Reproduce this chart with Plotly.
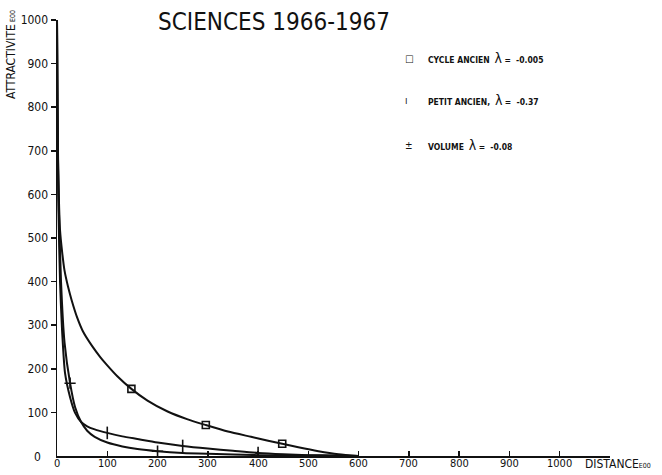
import plotly.graph_objects as go

# ---- data ----
# Curve A : "CYCLE ANCIEN" (square markers)
a_x = [0, 1, 2, 4, 6, 10, 15, 22, 29, 40, 52, 70, 86, 100, 120, 148, 180, 220, 260, 296,
       340, 386, 420, 448, 480, 520, 560, 600]
a_y = [1000, 800, 680, 580, 518, 470, 425, 388, 358, 318, 285, 252, 227, 208, 183, 154, 127, 102, 84, 71,
       56, 44, 35, 28, 20, 11, 4, 0]
a_mx = [148, 296, 448]
a_my = [154, 71, 28]

# Curve B : "PETIT ANCIEN" (tick markers)
b_x = [0, 1, 3, 6, 10, 16, 26, 36, 48, 60, 75, 100, 130, 160, 200, 250, 300, 350, 400, 450, 500, 550, 600]
b_y = [1000, 780, 560, 400, 290, 190, 135, 99, 78, 68, 61, 53, 45, 39, 31, 23, 17, 12, 7, 4, 2, 1, 0]
b_mx = [100, 250, 400]
b_my = [53, 23, 7]

# Curve C : "VOLUME" (cross markers)
c_x = [0, 1, 3, 8, 15, 26, 36, 48, 60, 75, 100, 130, 160, 200, 250, 300, 400, 500, 600]
c_y = [1000, 820, 600, 400, 260, 167, 112, 78, 58, 44, 31, 22, 16, 11, 7, 5, 2, 1, 0]
c_mx = [26, 200]
c_my = [167, 11]

x_ticks = [0, 100, 200, 300, 400, 500, 600, 700, 800, 900, 1000, 1100]
x_labels = ["0", "100", "200", "300", "400", "500", "600", "700", "800", "900", "1000", ""]
y_ticks = [100, 200, 300, 400, 500, 600, 700, 800, 900, 1000]
y_labels = ["100", "200", "300", "400", "500", "600", "700", "800", "900", "1000"]

title_text = "SCIENCES 1966-1967"
legend_names = ["CYCLE ANCIEN", "PETIT ANCIEN,", "VOLUME"]
legend_lambdas = ["-0.005", "-0.37", "-0.08"]
legend_syms = ["□", "ı", "±"]

# ---- layout geometry ----
W, H = 662, 475
L, R, T, B = 57, 52, 20, 19
PW, PH = W - L - R, H - T - B
AXY = H - B  # pixel row of the x axis

def px(x):
    return (x - L) / PW

def py(y):
    return (H - B - y) / PH

FONT = "Liberation Sans Narrow, DejaVu Sans Condensed, Arial Narrow, sans-serif"
INK = "#111111"

fig = go.Figure()
for xs, ys in [(a_x, a_y), (b_x, b_y), (c_x, c_y)]:
    fig.add_trace(go.Scatter(x=xs, y=ys, mode="lines",
                             line=dict(color=INK, width=2, shape="spline", smoothing=0.6),
                             showlegend=False, hoverinfo="skip"))

fig.add_trace(go.Scatter(x=a_mx, y=a_my, mode="markers", showlegend=False,
                         marker=dict(symbol="square-open", size=7, color=INK, line=dict(width=1.6, color=INK))))
fig.add_trace(go.Scatter(x=b_mx, y=b_my, mode="markers", showlegend=False,
                         marker=dict(symbol="line-ns", size=9, color=INK, line=dict(width=1.6, color=INK))))
fig.add_trace(go.Scatter(x=c_mx, y=c_my, mode="markers", showlegend=False,
                         marker=dict(symbol="cross-thin", size=8, color=INK, line=dict(width=1.6, color=INK))))

ann = []
# title
ann.append(dict(x=px(274), y=py(22), xref="paper", yref="paper", text=title_text,
                showarrow=False, xanchor="center", yanchor="middle",
                font=dict(family=FONT, size=24, color=INK)))
# legend
leg_y = [58, 100, 145]
for sym, name, lam, yy in zip(legend_syms, legend_names, legend_lambdas, leg_y):
    ann.append(dict(x=px(403), y=py(yy), xref="paper", yref="paper", text=sym,
                    showarrow=False, xanchor="left", yanchor="middle",
                    font=dict(family=FONT, size=10, color=INK)))
    ann.append(dict(x=px(426), y=py(yy), xref="paper", yref="paper",
                    text=f"<b>{name}</b>  <span style='font-size:14px'>λ</span> <b>=  {lam}</b>",
                    showarrow=False, xanchor="left", yanchor="middle",
                    font=dict(family=FONT, size=8.5, color=INK)))
# x tick labels (placed tight under the axis, as on the plotter output)
for xv, lab in zip(x_ticks, x_labels):
    if lab:
        ann.append(dict(x=xv, y=py(AXY + 8), xref="x", yref="paper", text=lab,
                        showarrow=False, xanchor="center", yanchor="middle",
                        font=dict(family=FONT, size=11, color=INK)))
# y axis title
ann.append(dict(x=px(11), y=py(55), xref="paper", yref="paper",
                text="ATTRACTIVITE<span style='font-size:7px'> E00</span>", textangle=-90,
                showarrow=False, xanchor="center", yanchor="middle",
                font=dict(family=FONT, size=12, color=INK)))
# x axis title
ann.append(dict(x=px(583), y=py(AXY + 8), xref="paper", yref="paper",
                text="DISTANCE<span style='font-size:7px'>E00</span>",
                showarrow=False, xanchor="left", yanchor="middle",
                font=dict(family=FONT, size=12, color=INK)))
# y zero label
ann.append(dict(x=px(32), y=py(AXY + 1), xref="paper", yref="paper", text="0",
                showarrow=False, xanchor="left", yanchor="middle",
                font=dict(family=FONT, size=12, color=INK)))

fig.update_layout(
    width=W, height=H,
    margin=dict(l=L, r=R, t=T, b=B, autoexpand=False),
    paper_bgcolor="white", plot_bgcolor="white",
    annotations=ann,
    xaxis=dict(range=[0, 1100], tickvals=x_ticks, showticklabels=False,
               showgrid=False, zeroline=False, showline=True, linecolor=INK, linewidth=1.5,
               ticks="inside", ticklen=5, tickwidth=1.5, tickcolor=INK, automargin=False),
    yaxis=dict(range=[0, 1000], tickvals=y_ticks, ticktext=y_labels,
               showgrid=False, zeroline=False, showline=True, linecolor=INK, linewidth=1.5,
               ticks="outside", ticklen=5, tickwidth=1.5, tickcolor=INK,
               tickfont=dict(family=FONT, size=12, color=INK), automargin=False),
)

fig.write_html("out.html",
               config={"displayModeBar": False, "staticPlot": True},
               post_script="document.body.style.margin='0px';"
                           "document.documentElement.style.overflow='hidden';")
